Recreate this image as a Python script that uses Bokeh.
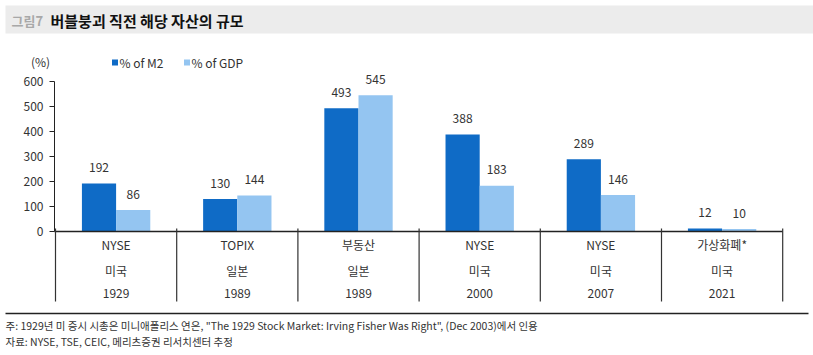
from bokeh.plotting import figure
from bokeh.models import Range1d, ColumnDataSource
from bokeh.core.properties import value
from bokeh.embed import file_html
from bokeh.resources import INLINE

# ---- data ----
assets = ["NYSE", "TOPIX", "부동산", "NYSE", "NYSE", "가상화폐*"]
countries = ["미국", "일본", "일본", "미국", "미국", "미국"]
years = ["1929", "1989", "1989", "2000", "2007", "2021"]
pct_m2 = [192, 130, 493, 388, 289, 12]
pct_gdp = [86, 144, 545, 183, 146, 10]
y_ticks = [0, 100, 200, 300, 400, 500, 600]

title_num = "그림7"
title_txt = "버블붕괴 직전 해당 자산의 규모"
note1 = "주: 1929년 미 증시 시총은 미니애폴리스 연은, \"The 1929 Stock Market: Irving Fisher Was Right\", (Dec 2003)에서 인용"
note2 = "자료: NYSE, TSE, CEIC, 메리츠증권 리서치센터 추정"

C_M2 = "#0F6BC6"
C_GDP = "#94C5F1"
FONT = "Noto Sans CJK KR"

W, H = 813, 355
# layout: pixel geometry of the reference
X0 = 55.0          # left of category area (px)
CW = 121.2         # category width (px)
Y0 = 231.0         # pixel row of value 0
PPU = 0.25         # px per value unit

def xd(px):
    return (px - X0) / CW

def yd(py):
    return (Y0 - py) / PPU

p = figure(width=W, height=H, output_backend="svg", toolbar_location=None,
           x_range=Range1d(xd(0), xd(W)), y_range=Range1d(yd(H), yd(0)),
           min_border=0, min_border_left=0, min_border_right=0,
           min_border_top=0, min_border_bottom=0)
p.axis.visible = False
p.grid.visible = False
p.outline_line_color = None
p.background_fill_color = "white"
p.border_fill_color = "white"

n = len(assets)
centers = [i + 0.5 for i in range(n)]
bw = 0.282

# title band
p.quad(left=[xd(5)], right=[xd(W)], bottom=[yd(33)], top=[yd(5)],
       fill_color="#ECECEC", line_color=None)
p.text(x=[xd(11)], y=[yd(20)], text=[title_num], text_font=value(FONT),
       text_font_size="13px", text_font_style="bold", text_color="#A8A8A8",
       text_baseline="middle")
p.text(x=[xd(50)], y=[yd(20)], text=[title_txt], text_font=value(FONT),
       text_font_size="15px", text_font_style="bold", text_color="#111111",
       text_baseline="middle")

# bars
src = ColumnDataSource(dict(
    x_m2=[c - bw / 2 for c in centers], x_gdp=[c + bw / 2 for c in centers],
    m2=pct_m2, gdp=pct_gdp,
    m2_lbl=[str(v) for v in pct_m2], gdp_lbl=[str(v) for v in pct_gdp]))
p.vbar(x="x_m2", top="m2", bottom=0, width=bw, source=src,
       fill_color=C_M2, line_color=None)
p.vbar(x="x_gdp", top="gdp", bottom=0, width=bw, source=src,
       fill_color=C_GDP, line_color=None)
p.text(x="x_m2", y="m2", text="m2_lbl", source=src, text_font=value(FONT),
       text_font_size="12px", text_color="#333333", text_align="center",
       text_baseline="middle", y_offset=-16)
p.text(x="x_gdp", y="gdp", text="gdp_lbl", source=src, text_font=value(FONT),
       text_font_size="12px", text_color="#333333", text_align="center",
       text_baseline="middle", y_offset=-16)

# y axis
p.segment(x0=[xd(54)], y0=[0], x1=[xd(54)], y1=[max(y_ticks)],
          line_color="#222222", line_width=1)
p.segment(x0=[xd(49)] * len(y_ticks), y0=y_ticks, x1=[xd(54)] * len(y_ticks),
          y1=y_ticks, line_color="#222222", line_width=1)
p.text(x=[xd(43)] * len(y_ticks), y=y_ticks, text=[str(t) for t in y_ticks],
       text_font=value(FONT), text_font_size="12px", text_color="#333333",
       text_align="right", text_baseline="middle")
p.text(x=[xd(40)], y=[yd(61)], text=["(%)"], text_font=value(FONT),
       text_font_size="12px", text_color="#333333", text_align="center",
       text_baseline="middle")

# x axis line + category table
p.segment(x0=[xd(54)], y0=[0], x1=[n], y1=[0], line_color="#222222", line_width=1.5)
bounds = list(range(n + 1))
p.segment(x0=bounds, y0=[yd(228)] * len(bounds), x1=bounds,
          y1=[yd(301)] * len(bounds), line_color="#333333", line_width=1.2)
for row, py in ((assets, 244), (countries, 270), (years, 293)):
    p.text(x=centers, y=[yd(py)] * n, text=row, text_font=value(FONT),
           text_font_size="12px", text_color="#333333", text_align="center",
           text_baseline="middle")

# legend
p.scatter(x=[xd(114.5)], y=[yd(62)], marker="square", size=6,
          fill_color=C_M2, line_color=None)
p.text(x=[xd(119)], y=[yd(62)], text=["% of M2"], text_font=value(FONT),
       text_font_size="12px", text_color="#333333", text_baseline="middle")
p.scatter(x=[xd(186.5)], y=[yd(62)], marker="square", size=6,
          fill_color=C_GDP, line_color=None)
p.text(x=[xd(191)], y=[yd(62)], text=["% of GDP"], text_font=value(FONT),
       text_font_size="12px", text_color="#333333", text_baseline="middle")

# footer
p.segment(x0=[xd(5)], y0=[yd(313)], x1=[xd(808)], y1=[yd(313)],
          line_color="#222222", line_width=1.5)
p.text(x=[xd(5)] * 2, y=[yd(325), yd(341)], text=[note1, note2],
       text_font=value(FONT),
       text_font_size="10.5px", text_color="#333333", text_baseline="middle")

open("out.html", "w").write(file_html(p, INLINE))
